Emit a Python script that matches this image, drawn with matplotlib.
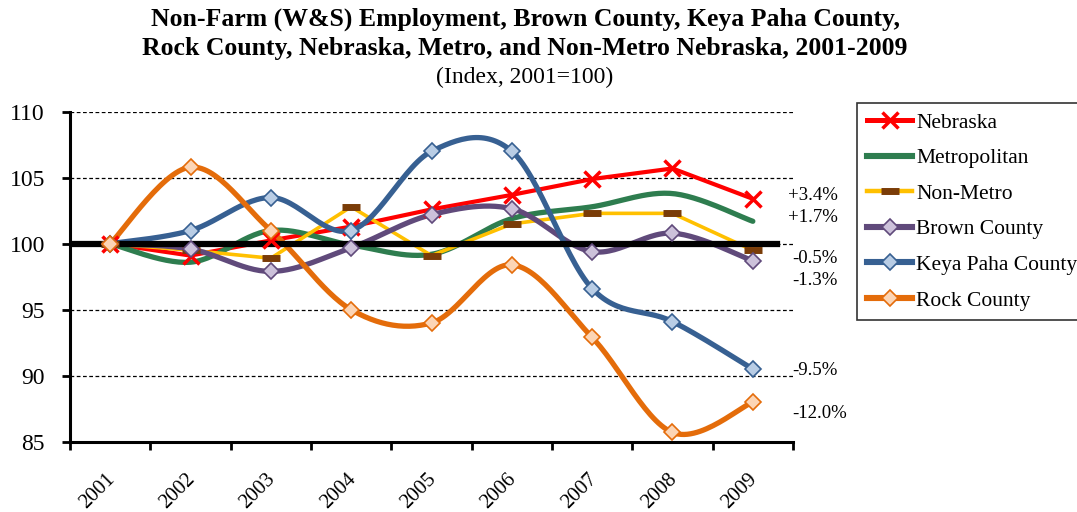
import matplotlib
matplotlib.use("Agg")
import matplotlib.pyplot as plt
import matplotlib.transforms as mtransforms
from matplotlib.lines import Line2D
import numpy as np

plt.rcParams['font.family'] = ['Liberation Serif', 'DejaVu Serif']

years = ['2001', '2002', '2003', '2004', '2005', '2006', '2007', '2008', '2009']
nebraska = [100, 99.1, 100.25, 101.3, 102.6, 103.7, 104.9, 105.7, 103.4]
metro = [100, 98.6, 101.0, 99.9, 99.2, 101.9, 102.8, 103.8, 101.7]
nonmetro = [100, 99.5, 98.9, 102.8, 99.1, 101.5, 102.3, 102.3, 99.5]
brown = [100, 99.6, 97.9, 99.7, 102.2, 102.65, 99.4, 100.8, 98.7]
keya = [100, 101.0, 103.5, 101.0, 107.0, 107.0, 96.6, 94.1, 90.5]
rock = [100, 105.8, 101.0, 95.0, 94.0, 98.4, 92.9, 85.7, 88.0]

end_labels = ['+3.4%', '+1.7%', '-0.5%', '-1.3%', '-9.5%', '-12.0%']
end_label_y = [103.65, 101.95, 98.85, 97.25, 90.4, 87.1]


def smooth(y, n=30):
    # excel-like smoothed line (catmull-rom as cubic bezier)
    y = np.asarray(y, float)
    x = np.arange(len(y), dtype=float)
    px = np.concatenate([[x[0]], x, [x[-1]]])
    py = np.concatenate([[y[0]], y, [y[-1]]])
    xs, ys = [], []
    t = np.linspace(0, 1, n)
    for i in range(len(y) - 1):
        p0 = np.array([px[i], py[i]])
        p1 = np.array([px[i + 1], py[i + 1]])
        p2 = np.array([px[i + 2], py[i + 2]])
        p3 = np.array([px[i + 3], py[i + 3]])
        c1 = p1 + (p2 - p0) / 6
        c2 = p2 - (p3 - p1) / 6
        pts = ((1 - t) ** 3)[:, None] * p1 + (3 * (1 - t) ** 2 * t)[:, None] * c1 \
            + (3 * (1 - t) * t ** 2)[:, None] * c2 + (t ** 3)[:, None] * p2
        xs.extend(pts[:, 0])
        ys.extend(pts[:, 1])
    return np.array(xs), np.array(ys)


fig = plt.figure(figsize=(10.77, 5.12), dpi=100)
ax = fig.add_axes([0.065, 0.1373, 0.6713, 0.6445])
x = np.arange(len(years))

series = [
    # name, data, line color, lw, smoothed, marker, ms, mfc, mec, mew
    ('Nebraska', nebraska, '#FF0000', 3.0, False, 'x', 12, '#FF0000', '#FF0000', 2.5),
    ('Metropolitan', metro, '#2E7D4F', 3.8, True, 'None', 0, 'none', 'none', 0),
    ('Non-Metro', nonmetro, '#FFC000', 2.6, False, '_', 13, '#7A3C08', '#7A3C08', 5),
    ('Brown County', brown, '#604A7B', 3.8, True, 'D', 8, '#CCC1DA', '#604A7B', 1.2),
    ('Keya Paha County', keya, '#376092', 3.8, True, 'D', 8, '#B9CDE5', '#376092', 1.2),
    ('Rock County', rock, '#E46C0A', 3.8, True, 'D', 8, '#FCD5B5', '#E46C0A', 1.2),
]

handles = []
for i, (name, vals, col, lw, sm, mk, ms, mfc, mec, mew) in enumerate(series):
    if sm:
        sx, sy = smooth(vals)
    else:
        sx, sy = x, vals
    ax.plot(sx, sy, color=col, lw=lw, solid_capstyle='round', zorder=3 + i * 0.1)
    if mk != 'None':
        ax.plot(x, vals, linestyle='none', marker=mk, ms=ms, mfc=mfc, mec=mec, mew=mew, zorder=5 + i * 0.1)
    handles.append(Line2D([], [], color=col, lw=lw + 0.6, marker=mk, ms=ms, mfc=mfc, mec=mec, mew=mew))

ax.axhline(100, xmin=0.005, xmax=0.978, color='black', lw=4.5, zorder=4)

ax.set_xlim(-0.5, len(years) - 0.5)
ax.set_ylim(85, 110)
ax.set_yticks([85, 90, 95, 100, 105, 110])
ax.yaxis.grid(True, linestyle=(0, (3, 2)), color='black', lw=0.9)
ax.set_axisbelow(True)
ax.set_xticks(x)
ax.set_xticklabels(years, rotation=45, ha='right', rotation_mode='anchor', fontsize=15)
ax.set_xticks(np.arange(len(years) + 1) - 0.5, minor=True)
ax.tick_params(axis='x', which='major', length=0, pad=20)
ax.tick_params(axis='x', which='minor', length=6, width=2, direction='out')
ax.tick_params(axis='y', length=6, width=2, direction='out', labelsize=17, pad=12)
shift = mtransforms.ScaledTranslation(-5 / 100, 0, fig.dpi_scale_trans)
for lbl in ax.get_xticklabels():
    lbl.set_transform(lbl.get_transform() + shift)
for s in ['top', 'right']:
    ax.spines[s].set_visible(False)
for s in ['left', 'bottom']:
    ax.spines[s].set_linewidth(2.2)

for lab, yv in zip(end_labels, end_label_y):
    ax.text(8.44 if lab.startswith('+') else 8.49, yv, lab, fontsize=13.5, va='center', ha='left', clip_on=False)

leg = fig.legend(handles, [s[0] for s in series], loc='upper left', bbox_to_anchor=(0.796, 0.799), fontsize=15.5,
                 handlelength=2.1, labelspacing=0.72, handletextpad=0.2, borderpad=0.45, frameon=True, fancybox=False,
                 borderaxespad=0)
leg.get_frame().set_edgecolor('black')
leg.get_frame().set_linewidth(1.2)

fig.text(0.4875, 0.962, 'Non-Farm (W&S) Employment, Brown County, Keya Paha County,', ha='center', va='center',
         fontsize=18.5, fontweight='bold')
fig.text(0.4875, 0.906, 'Rock County, Nebraska, Metro, and Non-Metro Nebraska, 2001-2009', ha='center', va='center',
         fontsize=18.5, fontweight='bold')
fig.text(0.4875, 0.848, '(Index, 2001=100)', ha='center', va='center', fontsize=17)

fig.savefig('out.png', dpi=100)
